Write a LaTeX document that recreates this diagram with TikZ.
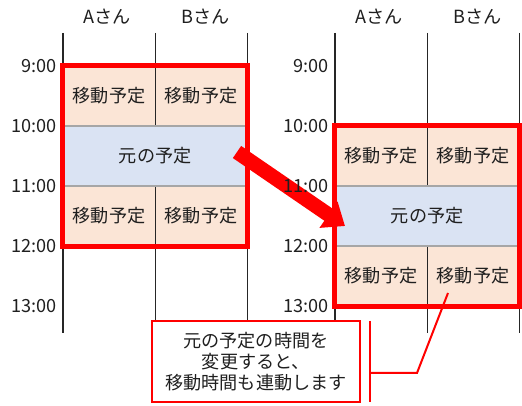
\documentclass[tikz,border=0pt]{standalone}
\usepackage{fontspec}
\setmainfont{Noto Sans CJK JP}
\usetikzlibrary{arrows.meta}
\definecolor{PlanRed}{HTML}{FF0000}
\definecolor{MovePeach}{HTML}{FBE5D6}
\definecolor{OrigBlue}{HTML}{DAE3F3}
\definecolor{LaneInk}{HTML}{262626}
\definecolor{RowGray}{HTML}{A6A6A6}
\definecolor{TextInk}{HTML}{1F1F1F}
\tikzset{
  every node/.style={font=\fontsize{13.6}{15.5}\selectfont, text=TextInk},
  movecell/.style={fill=MovePeach, inner sep=0pt, minimum width=69pt, minimum height=45pt},
  origcell/.style={draw=RowGray, line width=0.9pt, fill=OrigBlue, inner sep=0pt, minimum width=138pt, minimum height=45pt},
  lane/.style={draw=LaneInk, line width=1.3pt},
  redframe/.style={draw=PlanRed, line width=3.4pt},
  shiftarrow/.style={-{Triangle[length=15pt,width=23pt]}, draw=PlanRed, line width=11pt},
  notebox/.style={draw=PlanRed, line width=1.7pt, fill=white, align=center, inner sep=0pt, minimum width=156pt, minimum height=61pt},
  leader/.style={draw=PlanRed, line width=1.5pt},
  timelabel/.style={anchor=east, inner sep=0pt},
}

\begin{document}
\begin{tikzpicture}[x=0.75pt,y=-0.75pt]
  \useasboundingbox (0,0) rectangle (522,406);
  \fill[white] (0,0) rectangle (522,406);
  % Two schedules: before (L) and after (R) the change
  \foreach \side/\dx/\dy in {L/0/0, R/272/60}{
    \begin{scope}[shift={(\dx,\dy)}]
      % Moving time cells
      \node[movecell] (\side-mA1) at (109,96) {移動予定};
      \node[movecell] (\side-mB1) at (201,96) {移動予定};
      \node[movecell] (\side-mA2) at (109,216) {移動予定};
      \node[movecell] (\side-mB2) at (201,216) {移動予定};
    \end{scope}
    % Lanes for each person
    \foreach \lx in {63,155.5,247.5}
      \draw[lane] (\lx+\dx,33) -- (\lx+\dx,333);
    \begin{scope}[shift={(\dx,\dy)}]
      % Original appointment spans both lanes
      \node[origcell] (\side-orig) at (155.25,156) {元の予定};
      % Frame round the linked block
      \draw[redframe] (\side-mA1.north west) rectangle (\side-mB2.south east);
    \end{scope}
  }
  % Shift arrow
  \coordinate (arrowTail) at (237,152);
  \coordinate (arrowTip) at (345,226);
  \draw[shiftarrow] (arrowTail) -- (arrowTip);
  % Headers and hour labels
  \foreach \side/\dx in {L/0, R/272}{
    \node (\side-headA) at (107+\dx,17) {Aさん};
    \node (\side-headB) at (206+\dx,17) {Bさん};
    \foreach \h/\y in {9/66,10/126,11/186,12/246,13/306}
      \node[timelabel] (\side-t\h) at (57+\dx,\y) {\h:00};
  }
  % Callout
  \node[notebox] (note) at (256,361.5) {元の予定の時間を\\変更すると、\\移動時間も連動します};
  \coordinate (barTop) at (370,321);
  \coordinate (barBot) at (370,402);
  \coordinate (barMid) at (370,373);
  \coordinate (elbow) at (417,373);
  \coordinate (pointer) at (448,293);
  \draw[leader] (barTop) -- (barBot);
  \draw[leader] (barMid) -- (elbow) -- (pointer);
\end{tikzpicture}
\end{document}
